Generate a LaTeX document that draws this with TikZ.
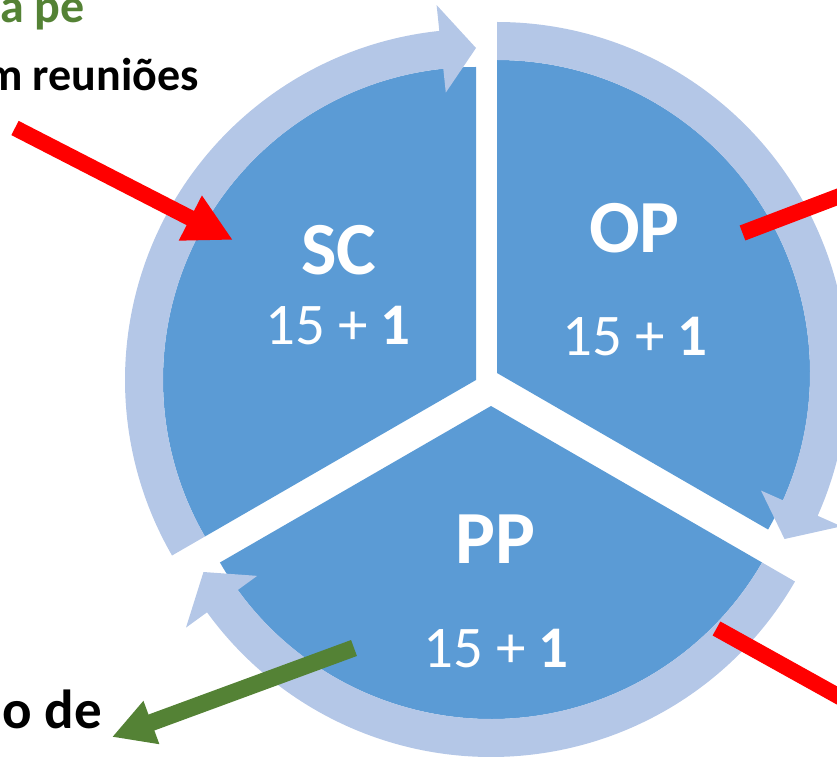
\documentclass[tikz,border=0pt]{standalone}
\usepackage{fontspec}
\setmainfont{Carlito}
\usetikzlibrary{arrows.meta}
\definecolor{secblue}{HTML}{5B9BD5}
\definecolor{ringblue}{HTML}{B4C7E7}
\definecolor{arrred}{HTML}{FF0000}
\definecolor{arrgreen}{HTML}{548235}
\tikzset{
  sector/.style={fill=secblue},
  ringarrow/.style={fill=ringblue},
  bigtitle/.style={text=white,inner sep=0pt,anchor=base,font=\fontsize{75}{90}\selectfont\bfseries},
  countlbl/.style={text=white,inner sep=0pt,anchor=base,font=\fontsize{59}{70}\selectfont},
  sidetext/.style={inner sep=0pt,anchor=base east,font=\bfseries},
  redline/.style={draw=arrred,line width=16pt},
  greenline/.style={draw=arrgreen,line width=17pt}
}
\begin{document}
\begin{tikzpicture}[x=1pt,y=1pt]
\useasboundingbox (0,0) rectangle (837,756);
\clip (0,0) rectangle (837,756);

% sectors
\begin{scope}[shift={(476,376)}]
  \fill[sector] (0,0) -- (90:313) arc[start angle=90,end angle=210,radius=313] -- cycle;
\end{scope}
\begin{scope}[shift={(497,383)}]
  \fill[sector] (0,0) -- (-30:313) arc[start angle=-30,end angle=90,radius=313] -- cycle;
\end{scope}
\begin{scope}[shift={(491,350)}]
  \fill[sector] (0,0) -- (210:313) arc[start angle=210,end angle=330,radius=313] -- cycle;
\end{scope}

% ring arrows
\begin{scope}[shift={(476,376)}]
  \fill[ringarrow] (210:351) arc[start angle=210,end angle=96,radius=351] -- (96:377) -- (90:332) -- (96:289) -- (96:313) arc[start angle=96,end angle=210,radius=313] -- cycle;
\end{scope}
\begin{scope}[shift={(497,383)}]
  \fill[ringarrow] (90:351) arc[start angle=90,end angle=-24,radius=351] -- (-24:377) -- (-30:332) -- (-24:289) -- (-24:313) arc[start angle=-24,end angle=90,radius=313] -- cycle;
\end{scope}
\begin{scope}[shift={(491,350)}]
  \fill[ringarrow] (-30:351) arc[start angle=-30,end angle=-144,radius=351] -- (-144:377) -- (-150:332) -- (-144:289) -- (-144:313) arc[start angle=-144,end angle=-30,radius=313] -- cycle;
\end{scope}

% labels
\node[bigtitle] (sc) at (339,481) {SC};
\node[countlbl] (scn) at (338,412) {15 + \textbf{1}};
\node[bigtitle] (op) at (634.5,503) {OP};
\node[countlbl] (opn) at (635,401) {15 + \textbf{1}};
\node[bigtitle] (pp) at (495.5,193) {PP};
\node[countlbl] (ppn) at (496,89) {15 + \textbf{1}};

% side texts
\node[sidetext,text=arrgreen,font=\fontsize{48}{58}\selectfont\bfseries] (t1) at (85,733) {a pe};
\node[sidetext,text=black,font=\fontsize{46}{55}\selectfont\bfseries] (t2) at (199,665) {m reuniões};
\node[sidetext,text=black,font=\fontsize{55}{66}\selectfont\bfseries] (t3) at (102,28) {o de};

% arrows
\coordinate (r1s) at (15,628);
\coordinate (r1e) at (233,516);
\draw[redline,-{Triangle[length=48pt,width=47pt]}] (r1s) -- (r1e);
\coordinate (r2s) at (742.5,523);
\coordinate (r2e) at (870,571.5);
\draw[redline] (r2s) -- (r2e);
\coordinate (r3s) at (716.5,127.5);
\coordinate (r3e) at (870,42.2);
\draw[redline] (r3s) -- (r3e);
\coordinate (gs) at (354,108);
\coordinate (ge) at (112,19);
\draw[greenline,-{Triangle[length=42pt,width=43pt]}] (gs) -- (ge);
\end{tikzpicture}
\end{document}
